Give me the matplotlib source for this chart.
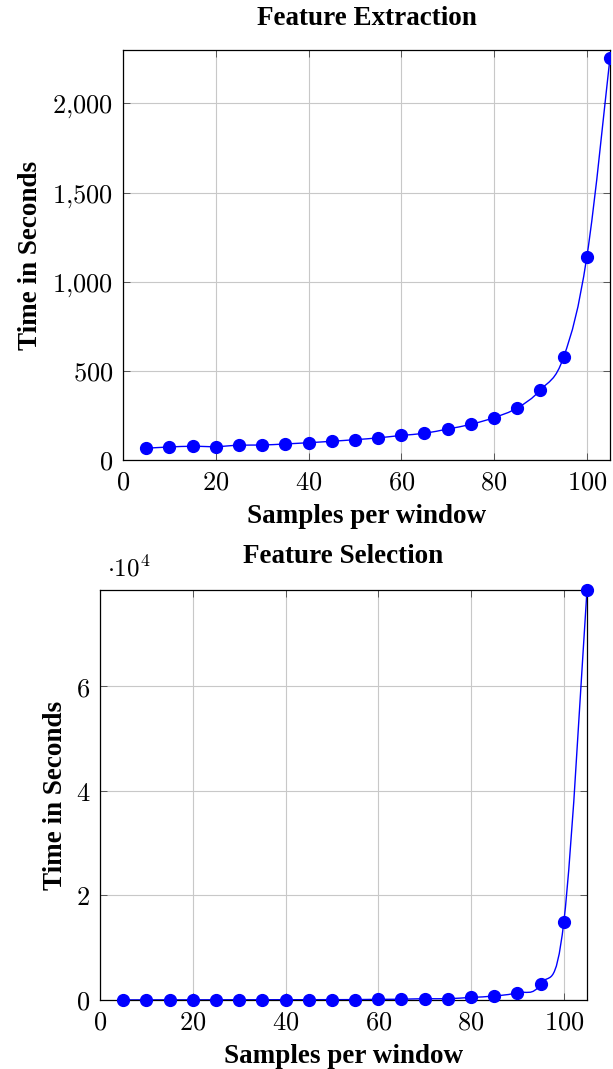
import numpy as np
import matplotlib
matplotlib.use("Agg")
import matplotlib.pyplot as plt
from matplotlib.path import Path
from matplotlib.patches import PathPatch
from matplotlib.ticker import FuncFormatter, MultipleLocator

plt.rcParams['mathtext.fontset'] = 'cm'

samples = [5, 10, 15, 20, 25, 30, 35, 40, 45, 50, 55, 60, 65, 70, 75, 80, 85, 90, 95, 100, 105]
extraction_time = [66, 73, 77, 75, 83, 84, 90, 97, 105, 114, 124, 138, 150, 174, 200, 238, 292, 393, 577, 1139, 2257]
selection_time = [20, 25, 30, 35, 40, 45, 50, 55, 60, 70, 80, 130, 150, 250, 250, 500, 760, 1400, 3060, 14900, 78400]

title_font = dict(family='Liberation Serif', weight='bold', size=19.5)
label_font = dict(family='Liberation Serif', weight='bold', size=19.5)
color = '#0000ff'


def smooth_path(xs, ys, tension=0.55):
    pts = np.column_stack([xs, ys]).astype(float)
    n = len(pts)
    verts = [pts[0]]
    codes = [Path.MOVETO]
    k = tension / 3.0
    for i in range(n - 1):
        p0 = pts[i - 1] if i > 0 else pts[i]
        p1 = pts[i]
        p2 = pts[i + 1]
        p3 = pts[i + 2] if i + 2 < n else pts[i + 1]
        c1 = p1 + (p2 - p0) * k
        c2 = p2 - (p3 - p1) * k
        verts += [c1, c2, p2]
        codes += [Path.CURVE4] * 3
    return Path(verts, codes)


def style(ax):
    ax.grid(True, color='#c8c8c8', linewidth=0.8)
    ax.set_axisbelow(True)
    ax.tick_params(direction='in', top=True, right=True, labelsize=19, length=5, width=0.6,
                   color='#444444', pad=7)
    for s in ax.spines.values():
        s.set_linewidth(0.9)
    ax.xaxis.set_major_locator(MultipleLocator(20))
    ax.xaxis.set_major_formatter(FuncFormatter(lambda v, p: f"${v:.0f}$"))


fig = plt.figure(figsize=(6.13, 10.69), dpi=100)

ax1 = fig.add_axes([123/613, 1 - 460/1069, 487/613, 410/1069])
style(ax1)
ax1.add_patch(PathPatch(smooth_path(samples, extraction_time), fill=False, edgecolor=color, lw=1.0))
ax1.plot(samples, extraction_time, 'o', color=color, ms=8.5, zorder=3)
ax1.set_xlim(0, 105)
ax1.set_ylim(0, 2300)
ax1.yaxis.set_major_locator(MultipleLocator(500))
ax1.yaxis.set_major_formatter(FuncFormatter(lambda v, p: "$" + f"{v:,.0f}".replace(",", "{,}") + "$"))
ax1.set_title('Feature Extraction', pad=18, **title_font)
ax1.set_xlabel('Samples per window', labelpad=6, **label_font)
ax1.set_ylabel('Time in Seconds', labelpad=7, **label_font)

ax2 = fig.add_axes([100/613, 1 - 1000/1069, 487/613, 410/1069])
style(ax2)
ax2.add_patch(PathPatch(smooth_path(samples, selection_time), fill=False, edgecolor=color, lw=1.0))
ax2.plot(samples, selection_time, 'o', color=color, ms=8.5, zorder=3, clip_on=False)
ax2.set_xlim(0, 105)
ax2.set_ylim(0, 78400)
ax2.yaxis.set_major_locator(MultipleLocator(20000))
ax2.yaxis.set_major_formatter(FuncFormatter(lambda v, p: f"${v/1e4:.0f}$"))
ax2.set_title('Feature Selection', pad=19.5, **title_font)
ax2.set_xlabel('Samples per window', labelpad=6, **label_font)
ax2.set_ylabel('Time in Seconds', labelpad=5.5, **label_font)
ax2.text(0.015, 1.02, r"$\cdot 10^{4}$", transform=ax2.transAxes, fontsize=18, ha='left', va='bottom')

fig.savefig('out.png', dpi=100)
